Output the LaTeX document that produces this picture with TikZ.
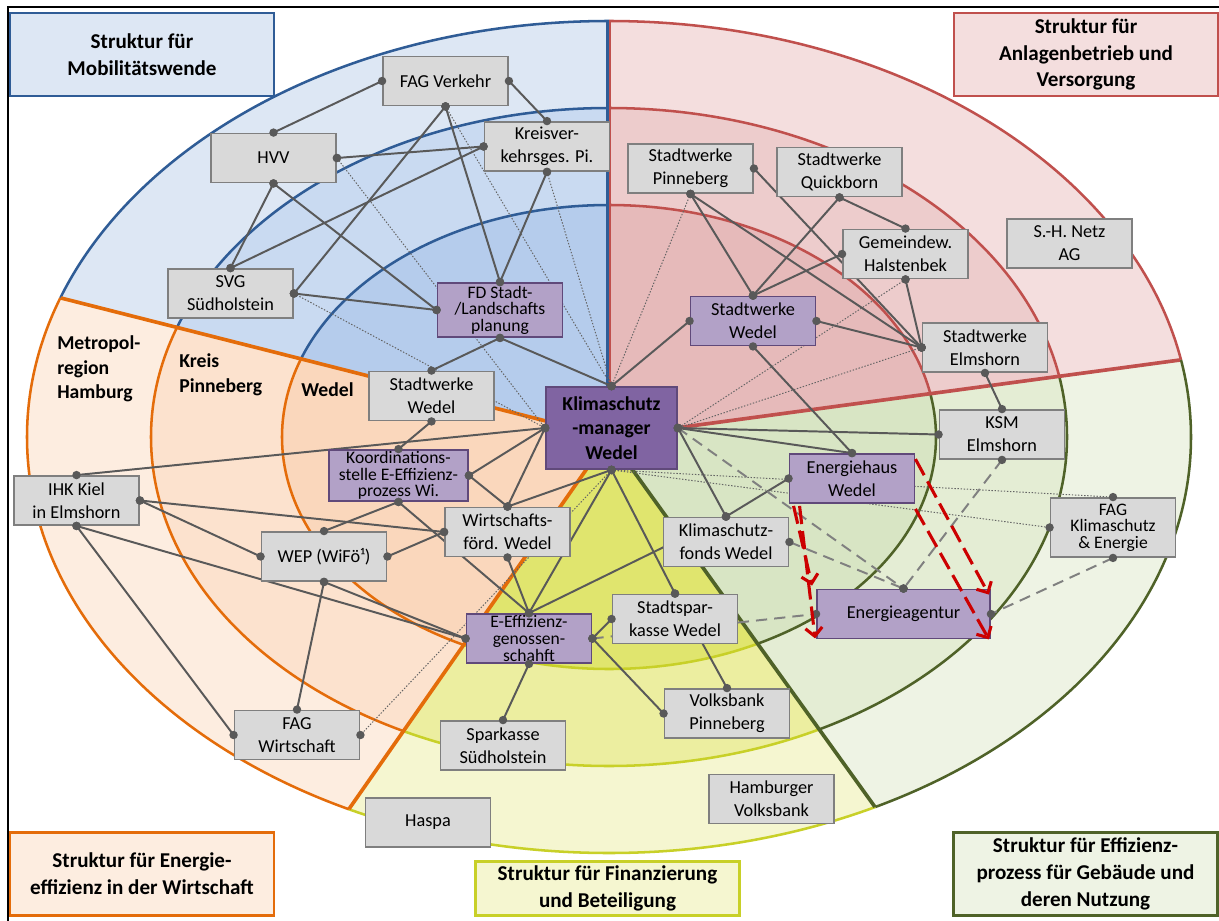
\documentclass[tikz,border=0pt]{standalone}
\usepackage{fontspec}
\setmainfont{Carlito}
\usetikzlibrary{arrows.meta,calc}

\definecolor{blueline}{RGB}{47,92,150}
\definecolor{blueA}{RGB}{221,231,244}
\definecolor{blueB}{RGB}{201,218,241}
\definecolor{blueC}{RGB}{181,204,236}
\definecolor{redline}{RGB}{192,80,77}
\definecolor{redA}{RGB}{244,222,222}
\definecolor{redB}{RGB}{237,204,204}
\definecolor{redC}{RGB}{230,186,186}
\definecolor{grnline}{RGB}{79,98,40}
\definecolor{grnA}{RGB}{238,243,228}
\definecolor{grnB}{RGB}{228,237,212}
\definecolor{grnC}{RGB}{216,229,196}
\definecolor{ylwline}{RGB}{200,208,40}
\definecolor{ylwA}{RGB}{245,246,208}
\definecolor{ylwB}{RGB}{236,238,160}
\definecolor{ylwC}{RGB}{224,229,110}
\definecolor{orgline}{RGB}{228,108,10}
\definecolor{orgA}{RGB}{253,237,224}
\definecolor{orgB}{RGB}{252,226,206}
\definecolor{orgC}{RGB}{250,215,188}
\definecolor{boxgray}{RGB}{217,217,217}
\definecolor{boxedge}{RGB}{127,127,127}
\definecolor{lilac}{RGB}{178,161,199}
\definecolor{lilacedge}{RGB}{96,73,122}
\definecolor{violet}{RGB}{128,100,162}
\definecolor{wiregray}{RGB}{89,89,89}
\definecolor{dotgray}{RGB}{100,100,100}
\definecolor{dashgray}{RGB}{128,128,128}
\definecolor{arrowred}{RGB}{204,0,0}

\pgfdeclarelayer{bg}
\pgfsetlayers{bg,main}

\newcommand{\squeezefont}{\fontsize{12.5}{11.8}\selectfont\lineskiplimit=-20pt\relax}
\newcommand{\knob}[1]{\fill[knobfill] (#1) circle[radius=3pt];}
\newcommand{\lnk}[3][wire]{%
  \begin{pgfonlayer}{bg}\draw[#1] (#2) -- (#3);\end{pgfonlayer}%
  \knob{#2}\knob{#3}}
\newcommand{\ringsector}[5]{%
  \begin{scope}
    \clip #1;
    \fill[#3] (cen) ellipse (582 and 416);
    \fill[#4] (cen) ellipse (458 and 329);
    \fill[#5] (cen) ellipse (327 and 232);
    \draw[ringline, #2] (cen) ellipse (582 and 416) (cen) ellipse (458 and 329) (cen) ellipse (327 and 232);
  \end{scope}}

\begin{document}
\begin{tikzpicture}[x=0.025cm, y=-0.025cm,
  box/.style={draw=boxedge, fill=boxgray, line width=1.3pt, minimum width=3.125cm, minimum height=1.225cm, inner sep=1pt, align=center, font=\fontsize{13}{16.5}\selectfont},
  lilacbox/.style={box, draw=lilacedge, fill=lilac},
  squeeze/.style={font=\squeezefont},
  titlebox/.style={line width=2pt, minimum width=6.6cm, minimum height=2.075cm, align=center, font=\bfseries\fontsize{15}{19}\selectfont},
  regionlabel/.style={anchor=west, inner sep=0pt, align=left, font=\bfseries\fontsize{14}{17.5}\selectfont},
  ringline/.style={line width=1.8pt},
  sepline/.style={line width=2.6pt},
  wire/.style={draw=wiregray, line width=1.4pt},
  dotwire/.style={draw=dotgray, line width=0.7pt, dash pattern=on 1pt off 1.2pt},
  dashwire/.style={draw=dashgray, line width=1.4pt, dash pattern=on 8pt off 5pt},
  redflow/.style={draw=arrowred, line width=2.2pt, dash pattern=on 13pt off 5pt, -{Straight Barb[length=6pt,width=12pt]}},
  knobfill/.style={fill=wiregray}
]
\useasboundingbox (0,0) rectangle (1219,921);
\coordinate (cen) at (609,437);

% sectors with three rings each
\begin{pgfonlayer}{bg}
\fill[white] (0,0) rectangle (1219,921);
\ringsector{(cen) -- (609,-600) -- (-1100,-600) -- (-1100,3.5) -- cycle}{blueline}{blueA}{blueB}{blueC}
\ringsector{(cen) -- (609,-600) -- (2400,-600) -- (2400,195.5) -- cycle}{redline}{redA}{redB}{redC}
\ringsector{(cen) -- (2400,195.5) -- (2400,2000) -- (1732.6,2000) -- cycle}{grnline}{grnA}{grnB}{grnC}
\ringsector{(cen) -- (1732.6,2000) -- (-483,2000) -- cycle}{ylwline}{ylwA}{ylwB}{ylwC}
\ringsector{(cen) -- (-483,2000) -- (-1100,2000) -- (-1100,3.5) -- cycle}{orgline}{orgA}{orgB}{orgC}
\draw[ringline, blueline] (607.5,22) -- (607.5,437);
\draw[ringline, redline] (610,22) -- (610,437);
\draw[sepline, orgline] (cen) -- (61,298);
\draw[sepline, redline] (cen) -- (1180,360);
\draw[sepline, grnline] (cen) -- (875,807);
\draw[sepline, orgline] (cen) -- (349,809);
\end{pgfonlayer}

% titles
\node[titlebox, draw=blueline, fill=blueA] (tmob) at (142,54.5) {Struktur für\\Mobilitätswende};
\node[titlebox, draw=redline, fill=redA] (tanl) at (1086,54.5) {Struktur für\\Anlagenbetrieb und\\Versorgung};
\node[titlebox, draw=orgline, fill=orgA] (teff) at (142,874) {Struktur für Energie-\\effizienz in der Wirtschaft};
\node[titlebox, draw=ylwline, fill=ylwA, minimum height=1.325cm] (tfin) at (607.5,888.5) {Struktur für Finanzierung\\und Beteiligung};
\node[titlebox, draw=grnline, fill=grnA] (tgeb) at (1085.5,874) {Struktur für Effizienz-\\prozess für Gebäude und\\deren Nutzung};

\node[regionlabel] (metro) at (57,369) {Metropol-\\region\\Hamburg};
\node[regionlabel] (kreis) at (179,375) {Kreis\\Pinneberg};
\node[regionlabel] (wedel) at (301,390) {Wedel};

% actors
\node[box] (fagv) at (445.5,81) {FAG Verkehr};
\node[box] (hvv) at (273.5,158) {HVV};
\node[box] (kvg) at (547,146.5) {Kreisver-\\kehrsges. Pi.};
\node[box] (svg) at (230.5,293.5) {SVG\\Südholstein};
\node[lilacbox, squeeze, minimum height=1.35cm] (fd) at (500,310) {FD Stadt-\\/Landschafts\\planung};
\node[box] (swpi) at (690.5,168.5) {Stadtwerke\\Pinneberg};
\node[box] (swqb) at (839.5,172) {Stadtwerke\\Quickborn};
\node[box] (gwh) at (905.5,254) {Gemeindew.\\Halstenbek};
\node[box] (shn) at (1069.5,243.5) {S.-H. Netz\\AG};
\node[lilacbox] (swwp) at (753,321) {Stadtwerke\\Wedel};
\node[box] (swel) at (985,347.5) {Stadtwerke\\Elmshorn};
\node[box] (swwg) at (431.5,396) {Stadtwerke\\Wedel};
\node[lilacbox, fill=violet, minimum width=3.275cm, minimum height=2.05cm, font=\bfseries\fontsize{14}{17.5}\selectfont] (ksm) at (611.5,428) {Klimaschutz\\-manager\\Wedel};
\node[box] (ksmel) at (1002,434.5) {KSM\\Elmshorn};
\node[lilacbox] (ehw) at (852,478.5) {Energiehaus\\Wedel};
\node[lilacbox, squeeze, minimum width=3.475cm] (koord) at (398.5,475.5) {Koordinations-\\stelle E-Effizienz-\\prozess Wi.};
\node[box] (ihk) at (76.5,500.5) {IHK Kiel\\in Elmshorn};
\node[box] (wfw) at (507.5,532) {Wirtschafts-\\förd. Wedel};
\node[box] (wep) at (324,556.5) {WEP (WiFö¹)};
\node[box] (ksf) at (726,542) {Klimaschutz-\\fonds Wedel};
\node[box, squeeze, minimum height=1.475cm] (fagk) at (1113,527.5) {FAG\\Klimaschutz\\\& Energie};
\node[lilacbox, squeeze] (eeg) at (529,638.5) {E-Effizienz-\\genossen-\\schahft};
\node[box] (sspk) at (675,619) {Stadtspar-\\kasse Wedel};
\node[lilacbox, minimum width=4.325cm] (ea) at (903.5,614) {Energieagentur};
\node[box] (fagw) at (297,735) {FAG\\Wirtschaft};
\node[box] (spks) at (503,745.5) {Sparkasse\\Südholstein};
\node[box] (vbp) at (727,713.5) {Volksbank\\Pinneberg};
\node[box] (haspa) at (428,822.5) {Haspa};
\node[box] (hvb) at (771.5,799) {Hamburger\\Volksbank};

% solid ties
\lnk{hvv.north}{fagv.west}
\lnk{fagv.east}{kvg.north}
\lnk{hvv.east}{kvg.west}
\lnk{hvv.south}{svg.north}
\lnk{hvv.south}{fd.west}
\lnk{svg.north}{kvg.west}
\lnk{fagv.south}{svg.east}
\lnk{fagv.south}{fd.north}
\lnk{kvg.south}{fd.north}
\lnk{svg.east}{fd.west}
\lnk{fd.south}{swwg.north}
\lnk{fd.south}{ksm.north}
\lnk{swwg.south}{koord.north}
\lnk{ksm.west}{ihk.north}
\lnk{ksm.west}{koord.east}
\lnk{ksm.west}{wfw.north}
\lnk{koord.east}{wfw.north}
\lnk{koord.south}{wep.north}
\lnk{koord.south}{eeg.north}
\lnk{ihk.east}{wfw.west}
\lnk{ihk.east}{wep.west}
\lnk{ihk.south}{eeg.west}
\lnk{ihk.south}{fagw.west}
\lnk{wep.east}{wfw.west}
\lnk{wep.south}{fagw.north}
\lnk{wep.south}{eeg.west}
\lnk{wfw.south}{eeg.north}
\lnk{ksm.south}{wfw.north}
\lnk{ksm.south}{eeg.north}
\lnk{ksm.south}{sspk.north}
\lnk{sspk.north}{vbp.north}
\lnk{sspk.west}{eeg.east}
\lnk{eeg.east}{vbp.west}
\lnk{eeg.south}{spks.north}
\lnk{eeg.north}{ksf.north}
\lnk{ksf.north}{ehw.west}
\lnk{ksm.east}{ksf.north}
\lnk{ksm.east}{ehw.north}
\lnk{ksm.east}{ksmel.west}
\lnk{swwp.south}{ehw.north}
\lnk{ksm.north}{swwp.west}
\lnk{swwp.east}{swel.west}
\lnk{swpi.east}{swel.west}
\lnk{swpi.south}{swel.west}
\lnk{swpi.south}{swwp.north}
\lnk{swqb.south}{swwp.north}
\lnk{swqb.south}{gwh.north}
\lnk{swwp.north}{gwh.west}
\lnk{gwh.south}{swel.west}
\lnk{swel.south}{ksmel.north}

% loose ties
\lnk[dotwire]{hvv.east}{ksm.west}
\lnk[dotwire]{svg.east}{ksm.west}
\lnk[dotwire]{fagv.south}{ksm.north}
\lnk[dotwire]{kvg.south}{ksm.north}
\lnk[dotwire]{swpi.south}{ksm.north}
\lnk[dotwire]{gwh.south}{ksm.east}
\lnk[dotwire]{swel.west}{ksm.east}
\lnk[dotwire]{ksm.south}{fagk.north}
\lnk[dotwire]{ksm.south}{fagk.west}
\lnk[dotwire]{ksm.south}{fagw.east}

% planned ties
\lnk[dashwire]{ksm.east}{ea.north}
\lnk[dashwire]{ksf.east}{ea.north}
\lnk[dashwire]{ksmel.south}{ea.north}
\lnk[dashwire]{fagk.south}{ea.east}
\lnk[dashwire]{eeg.east}{ea.west}

% transfer arrows
\draw[redflow] ($(ehw.north east)+(0,6)$) -- ($(ea.north east)+(-2,6)$);
\draw[redflow] ($(ehw.south east)+(0,5)$) -- ($(ea.south east)+(-2,0)$);
\draw[redflow] ($(ehw.south west)+(5,2)$) -- ($(ea.north west)+(-4,-3)$);
\draw[redflow] ($(ehw.south west)+(11,2)$) -- ($(ea.south west)+(-1,-1)$);

\draw[line width=1.2pt] (8,921) -- (8,7) -- (1219,7);
\end{tikzpicture}
\end{document}
